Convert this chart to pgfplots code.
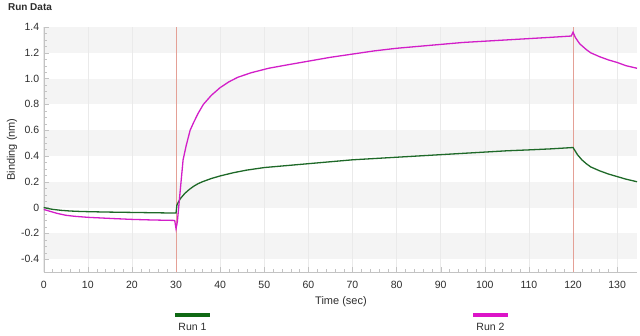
\documentclass[border=0pt]{standalone}
\usepackage{fontspec}
\setmainfont{Liberation Sans}
\usepackage{pgfplots}
\pgfplotsset{compat=1.18}
\definecolor{runone}{RGB}{30,105,40}
\definecolor{runtwo}{RGB}{210,30,200}
\definecolor{legone}{RGB}{15,105,20}
\definecolor{legtwo}{RGB}{220,20,200}
\definecolor{markc}{RGB}{228,160,150}
\definecolor{band}{RGB}{244,244,244}
\definecolor{gridc}{RGB}{234,234,234}
\definecolor{tickc}{RGB}{195,195,195}
\definecolor{txt}{RGB}{45,45,45}
\begin{document}
\begin{tikzpicture}
\begin{axis}[
  at={(43.7pt,63pt)}, anchor=south west,
  scale only axis, width=593.3pt, height=245pt,
  xmin=0, xmax=134.5, ymin=-0.5, ymax=1.4,
  set layers,
  axis lines*=left,
  axis line style={tickc},
  xtick={0,10,...,130},
  minor x tick num=4,
  ytick={-0.4,-0.2,0,0.2,0.4,0.6,0.8,1.0,1.2,1.4},
  yticklabels={-0.4,-0.2,0,0.2,0.4,0.6,0.8,1.0,1.2,1.4},
  minor y tick num=3,
  tick style={tickc},
  major tick length=5pt, minor tick length=3pt,
  xmajorgrids, major grid style={gridc, line width=0.6pt},
  /pgf/number format/assume math mode=true,
  tick label style={font=\fontsize{10.5}{12}\selectfont, text=txt},
  xticklabel style={yshift=-6pt},
  yticklabel style={xshift=-1pt},
]
\pgfplotsextra{%
\begin{pgfonlayer}{axis background}
\fill[band] (axis cs:0,1.2) rectangle (axis cs:134.5,1.4);
\fill[band] (axis cs:0,0.8) rectangle (axis cs:134.5,1.0);
\fill[band] (axis cs:0,0.4) rectangle (axis cs:134.5,0.6);
\fill[band] (axis cs:0,0.0) rectangle (axis cs:134.5,0.2);
\fill[band] (axis cs:0,-0.4) rectangle (axis cs:134.5,-0.2);
\end{pgfonlayer}}
\draw[markc, line width=0.8pt] (axis cs:30,-0.5) -- (axis cs:30,1.4);
\draw[markc, line width=0.8pt] (axis cs:120,-0.5) -- (axis cs:120,1.4);
\addplot[runone, line width=1.3pt] coordinates {
(0,0) (1,-0.008) (2,-0.014) (4,-0.022) (6,-0.027) (8,-0.030) (10,-0.032)
(14,-0.035) (18,-0.037) (22,-0.039) (26,-0.041) (29.8,-0.043) (30,-0.042)
(30.2,0.02) (30.5,0.04) (31,0.07) (32,0.11) (33,0.14) (34,0.165) (35,0.185)
(36,0.20) (38,0.225) (40,0.245) (43,0.27) (46,0.29) (50,0.31) (55,0.325)
(60,0.34) (65,0.355) (70,0.37) (75,0.38) (80,0.39) (85,0.40) (90,0.41)
(95,0.42) (100,0.43) (105,0.44) (110,0.447) (115,0.455) (119.8,0.465)
(120,0.465) (121,0.41) (122,0.37) (123,0.34) (124,0.315) (126,0.285)
(128,0.26) (130,0.24) (132,0.22) (134.5,0.20)
};
\addplot[runtwo, line width=1.3pt] coordinates {
(0,-0.015) (1,-0.025) (2,-0.035) (3,-0.045) (5,-0.06) (7,-0.068) (10,-0.076)
(13,-0.081) (16,-0.086) (20,-0.092) (24,-0.096) (28,-0.099) (29.7,-0.10)
(30,-0.165) (30.3,-0.11) (30.6,0.0) (31,0.15) (31.6,0.37) (32.3,0.48)
(33.2,0.60) (34,0.66) (35,0.73) (36.2,0.80) (38,0.87) (40,0.93) (42,0.975)
(44,1.01) (47,1.045) (51,1.08) (55,1.105) (60,1.135) (65,1.165) (70,1.19)
(75,1.215) (80,1.235) (85,1.25) (90,1.265) (95,1.28) (100,1.29) (105,1.30)
(110,1.31) (115,1.32) (119.6,1.33) (120,1.36) (120.5,1.32) (121.5,1.27)
(123,1.225) (124,1.20) (126,1.17) (128,1.145) (130,1.125) (132,1.10)
(134.5,1.08)
};
\end{axis}
\path (0pt,0pt) rectangle (640pt,335pt);
\node[font=\fontsize{10}{11}\selectfont\bfseries, text=txt, anchor=west] at (4.5pt,328pt) {Run Data};
\node[font=\fontsize{11}{12}\selectfont, text=txt, rotate=90] at (12pt,185.5pt) {Binding (nm)};
\node[font=\fontsize{11}{12}\selectfont, text=txt] at (341pt,33.3pt) {Time (sec)};
\draw[legone, line width=4.7pt] (175pt,20pt) -- (210pt,20pt);
\node[font=\fontsize{10.5}{12}\selectfont, text=txt] at (192.5pt,8pt) {Run 1};
\draw[legtwo, line width=4.7pt] (473pt,20pt) -- (508pt,20pt);
\node[font=\fontsize{10.5}{12}\selectfont, text=txt] at (490.5pt,8pt) {Run 2};
\end{tikzpicture}
\end{document}
